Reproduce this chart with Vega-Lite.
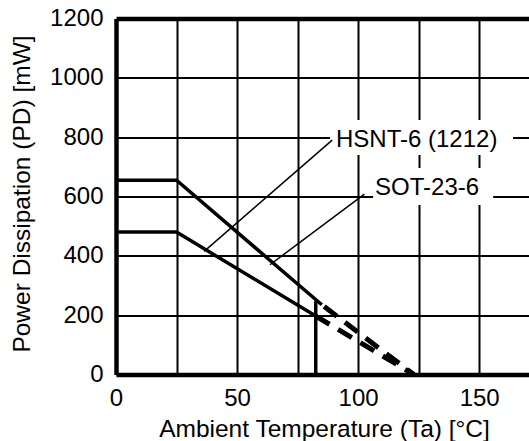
{
  "$schema": "https://vega.github.io/schema/vega-lite/v6.json",
  "autosize": "none",
  "width": 414,
  "height": 356,
  "padding": {"left": 116, "top": 18.5, "right": 0, "bottom": 66.5},
  "background": "white",
  "config": {
    "view": {"stroke": null},
    "font": "Liberation Sans",
    "axis": {"labelFont": "Liberation Sans", "titleFont": "Liberation Sans", "labelColor": "black", "titleColor": "black", "titleFontWeight": "normal"}
  },
  "datasets": {
    "boxes": [
      {"x": 88.4, "x2": 164, "y": 740, "y2": 858},
      {"x": 106.2, "x2": 155.8, "y": 571, "y2": 696}
    ],
    "solid": [
      {"series": "HSNT-6 (1212)", "t": 0, "p": 655},
      {"series": "HSNT-6 (1212)", "t": 25, "p": 655},
      {"series": "HSNT-6 (1212)", "t": 85, "p": 235},
      {"series": "SOT-23-6", "t": 0, "p": 480},
      {"series": "SOT-23-6", "t": 25, "p": 480},
      {"series": "SOT-23-6", "t": 82.5, "p": 197}
    ],
    "dashed": [
      {"series": "HSNT-6 (1212)", "t": 86, "p": 229},
      {"series": "HSNT-6 (1212)", "t": 123, "p": 0},
      {"series": "SOT-23-6", "t": 82.5, "p": 197},
      {"series": "SOT-23-6", "t": 123, "p": 0}
    ],
    "vline": [
      {"t": 82.5, "p": 0, "p2": 247}
    ],
    "leaders": [
      {"t": 36.4, "p": 415, "t2": 89.3, "p2": 790},
      {"t": 63.6, "p": 370, "t2": 102.6, "p2": 608}
    ],
    "labels": [
      {"t": 124.2, "p": 768, "label": "HSNT-6 (1212)"},
      {"t": 128.5, "p": 605, "label": "SOT-23-6"}
    ]
  },
  "encoding": {
    "x": {
      "field": "t", "type": "quantitative",
      "scale": {"domain": [0, 171], "nice": false, "zero": false},
      "axis": {
        "title": "Ambient Temperature (Ta) [°C]",
        "values": [0, 25, 50, 75, 100, 125, 150],
        "format": "d",
        "labelExpr": "datum.value % 50 === 0 ? datum.label : ''",
        "labelFlush": false,
        "labelOverlap": false,
        "labelFontSize": 24,
        "labelPadding": 12,
        "ticks": false,
        "domainColor": "black",
        "domainWidth": 4.5,
        "grid": true,
        "gridColor": "black",
        "gridWidth": 2,
        "gridOpacity": 1,
        "titleFontSize": 24.5,
        "titleX": 208,
        "titleY": 61.5,
        "titleBaseline": "alphabetic"
      }
    },
    "y": {
      "field": "p", "type": "quantitative",
      "scale": {"domain": [0, 1200], "nice": false},
      "axis": {
        "title": "Power Dissipation (PD) [mW]",
        "values": [0, 200, 400, 600, 800, 1000, 1200],
        "format": "d",
        "labelOverlap": false,
        "labelFontSize": 24,
        "labelPadding": 13,
        "ticks": false,
        "domainColor": "black",
        "domainWidth": 4.5,
        "grid": true,
        "gridColor": "black",
        "gridOpacity": 1,
        "gridWidth": {"condition": {"test": "datum.value === 1200", "value": 4.5}, "value": 2},
        "titleFontSize": 24.5,
        "titleX": -94,
        "titleY": 175,
        "titleAngle": -90,
        "titleBaseline": "middle",
        "titleAlign": "center"
      }
    }
  },
  "layer": [
    {
      "data": {"name": "boxes"},
      "mark": {"type": "rect", "fill": "white", "stroke": null},
      "encoding": {
        "x": {"field": "x", "type": "quantitative"},
        "x2": {"field": "x2"},
        "y": {"field": "y", "type": "quantitative"},
        "y2": {"field": "y2"}
      }
    },
    {
      "data": {"name": "solid"},
      "mark": {"type": "line", "color": "black", "strokeWidth": 3.5, "strokeJoin": "miter"},
      "encoding": {"detail": {"field": "series"}}
    },
    {
      "data": {"name": "dashed"},
      "mark": {"type": "line", "color": "black", "strokeWidth": 5, "strokeDash": [16, 10]},
      "encoding": {"detail": {"field": "series"}}
    },
    {
      "data": {"name": "vline"},
      "mark": {"type": "rule", "color": "black", "strokeWidth": 3.5},
      "encoding": {"y2": {"field": "p2"}}
    },
    {
      "data": {"name": "leaders"},
      "mark": {"type": "rule", "color": "black", "strokeWidth": 1.5},
      "encoding": {"x2": {"field": "t2"}, "y2": {"field": "p2"}}
    },
    {
      "data": {"name": "labels"},
      "mark": {"type": "text", "font": "Liberation Sans", "fontSize": 24, "align": "center", "baseline": "alphabetic", "color": "black"},
      "encoding": {"text": {"field": "label"}}
    }
  ]
}
